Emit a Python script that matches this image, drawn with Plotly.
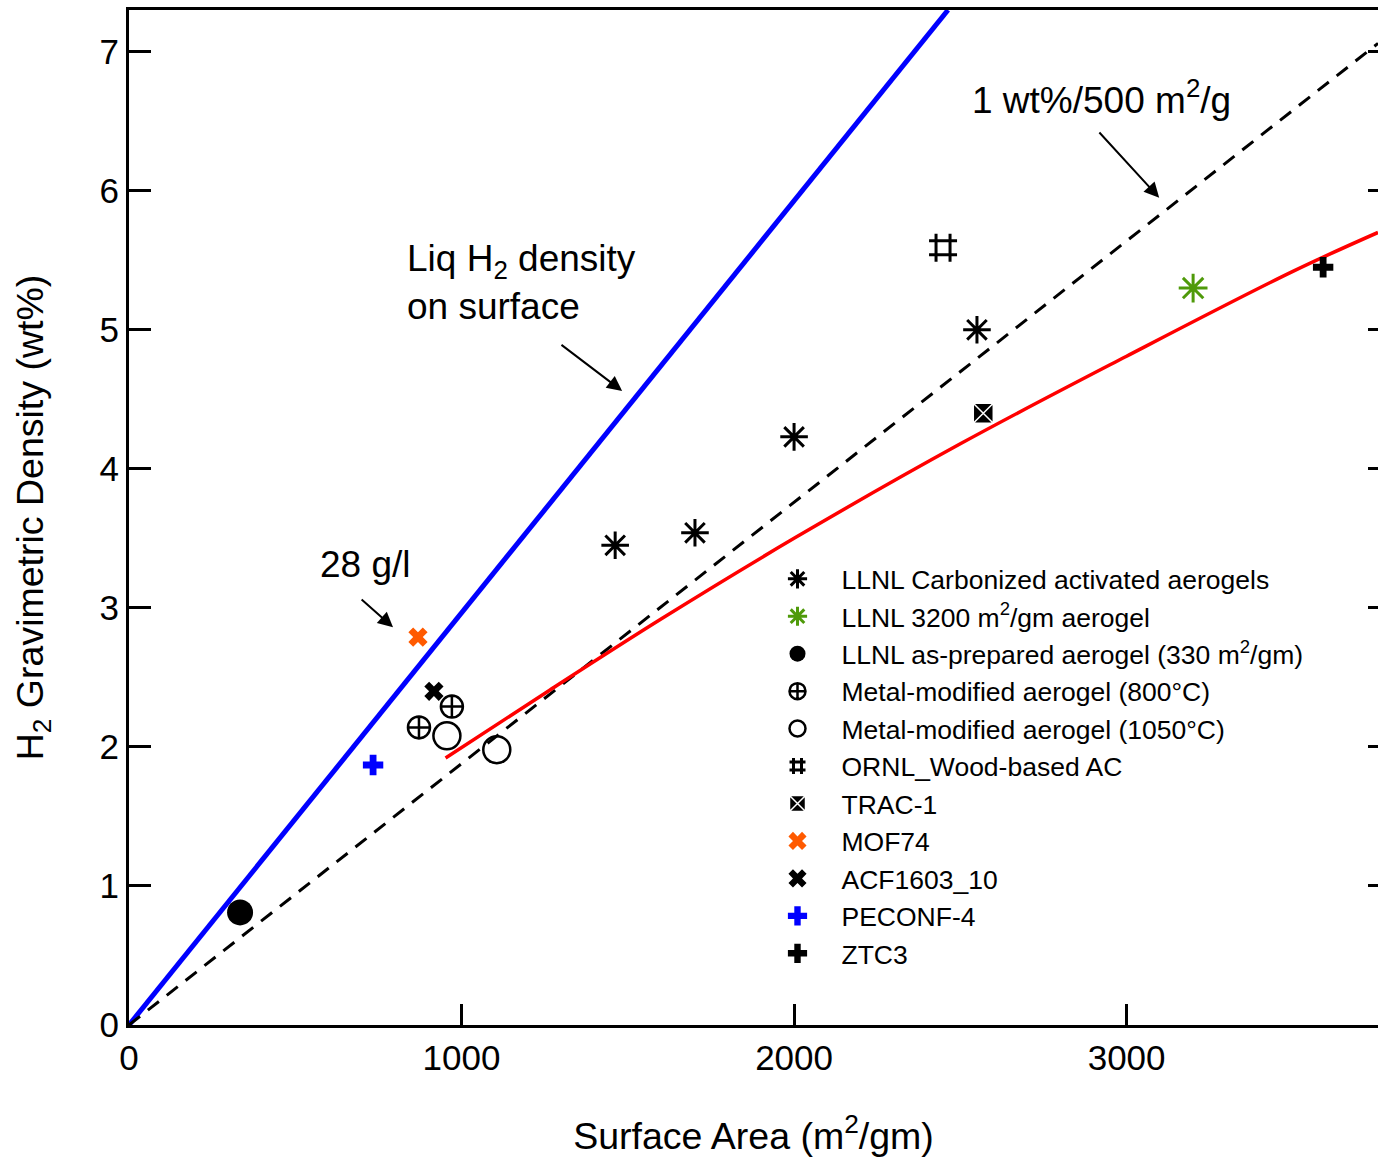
import plotly.graph_objects as go

FONT = "Liberation Sans, Arial, Helvetica, sans-serif"

# Reference lines (endpoints / points)
liq_x = [0, 2463]
liq_y = [0, 7.30]
ratio_x = [0, 3756]
ratio_y = [0, 7.06]
fit_x = [952, 1266, 1600, 2000, 2500, 3000, 3500, 3756]
fit_y = [1.92, 2.41, 2.92, 3.50, 4.18, 4.81, 5.42, 5.70]

# Data series
carb_x = [1462, 1702, 2000, 2550]
carb_y = [3.45, 3.54, 4.23, 5.00]
l3200_x = [3200]
l3200_y = [5.30]
asprep_x = [334]
asprep_y = [0.81]
mm800_x = [872, 971]
mm800_y = [2.14, 2.29]
mm1050_x = [956, 1106]
mm1050_y = [2.08, 1.98]
ornl_x = [2448]
ornl_y = [5.59]
trac_x = [2569]
trac_y = [4.40]
mof_x = [869]
mof_y = [2.79]
acf_x = [917]
acf_y = [2.40]
pec_x = [734]
pec_y = [1.87]
ztc_x = [3591]
ztc_y = [5.45]

x_ticks = [0, 1000, 2000, 3000]
y_ticks = [0, 1, 2, 3, 4, 5, 6, 7]

fig = go.Figure()

fig.add_trace(go.Scatter(x=liq_x, y=liq_y, mode="lines", showlegend=False,
                         line=dict(color="#0000FF", width=5)))
fig.add_trace(go.Scatter(x=ratio_x, y=ratio_y, mode="lines", showlegend=False,
                         line=dict(color="black", width=3, dash="14px,10px")))
fig.add_trace(go.Scatter(x=fit_x, y=fit_y, mode="lines", showlegend=False,
                         line=dict(color="#FF0000", width=3.5, shape="spline", smoothing=1.0)))

def pts(x, y, name, symbol, size, color, lw=0, lcolor=None):
    fig.add_trace(go.Scatter(
        x=x, y=y, mode="markers", name=name,
        marker=dict(symbol=symbol, size=size, color=color,
                    line=dict(width=lw, color=lcolor if lcolor else color))))

pts(carb_x, carb_y, "LLNL Carbonized activated aerogels", "asterisk-open", 23, "black", 3)
pts(l3200_x, l3200_y, "LLNL 3200 m<sup>2</sup>/gm aerogel", "asterisk-open", 24, "#4F9A0A", 3)
pts(asprep_x, asprep_y, "LLNL as-prepared aerogel (330 m<sup>2</sup>/gm)", "circle", 26, "black")
pts(mm800_x, mm800_y, "Metal-modified aerogel (800°C)", "circle-cross-open", 22, "black", 2.5)
pts(mm1050_x, mm1050_y, "Metal-modified aerogel (1050°C)", "circle-open", 27, "black", 2.5)
pts(ornl_x, ornl_y, "ORNL_Wood-based AC", "hash-open", 28, "black", 3)
pts(trac_x, trac_y, "TRAC-1", "square-x", 20, "black", 1.5, "white")
pts(mof_x, mof_y, "MOF74", "x", 17, "#FF5A00")
pts(acf_x, acf_y, "ACF1603_10", "x", 17, "black")
pts(pec_x, pec_y, "PECONF-4", "cross", 17, "#0000FF")
pts(ztc_x, ztc_y, "ZTC3", "cross", 17, "black")

# right-side mirrored ticks
fig.add_trace(go.Scatter(x=[None], y=[None], yaxis="y2", showlegend=False, hoverinfo="skip"))

# annotations
anno_font = dict(family=FONT, size=37, color="black")
fig.add_annotation(x=830, y=5.34, xref="x", yref="y", text="Liq H<sub>2</sub> density<br>on surface",
                   showarrow=False, xanchor="left", yanchor="middle", align="left", font=anno_font)
fig.add_annotation(x=710, y=3.31, xref="x", yref="y", text="28 g/l",
                   showarrow=False, xanchor="center", yanchor="middle", font=anno_font)
fig.add_annotation(x=2923, y=6.67, xref="x", yref="y", text="1 wt%/500 m<sup>2</sup>/g",
                   showarrow=False, xanchor="center", yanchor="middle", font=anno_font)

arrows = [((1483, 4.56), (1296, 4.90)),
          ((794, 2.86), (695, 3.07)),
          ((3098, 5.95), (2914, 6.43))]
for (tx, ty), (sx, sy) in arrows:
    fig.add_annotation(x=tx, y=ty, ax=sx, ay=sy, xref="x", yref="y", axref="x", ayref="y",
                       text="", showarrow=True, arrowhead=2, arrowsize=1.5, arrowwidth=2,
                       arrowcolor="black")

fig.update_layout(
    width=1378, height=1157,
    margin=dict(l=129, r=0, t=10, b=132),
    paper_bgcolor="white", plot_bgcolor="white",
    font=dict(family=FONT, color="black"),
    showlegend=True,
    legend=dict(x=0.5, y=0.463, xanchor="left", yanchor="top",
                font=dict(family=FONT, size=26.5, color="black"),
                bgcolor="rgba(0,0,0,0)", itemwidth=78, tracegroupgap=0),
    xaxis=dict(range=[0, 3756], tickvals=x_ticks,
               ticks="inside", ticklen=21, tickwidth=3, tickcolor="black",
               showline=True, linewidth=3, linecolor="black", mirror=True,
               showgrid=False, zeroline=False,
               tickfont=dict(family=FONT, size=35, color="black"),
               title=dict(text="Surface Area (m<sup>2</sup>/gm)", standoff=48,
                          font=dict(family=FONT, size=37.5, color="black"))),
    yaxis=dict(range=[0, 7.3], tickvals=y_ticks,
               ticks="inside", ticklen=22, tickwidth=3, tickcolor="black",
               showline=True, linewidth=3, linecolor="black", mirror=False,
               showgrid=False, zeroline=False,
               tickfont=dict(family=FONT, size=35, color="black"),
               title=dict(text="H<sub>2</sub> Gravimetric Density (wt%)", standoff=45,
                          font=dict(family=FONT, size=37.5, color="black"))),
    yaxis2=dict(range=[0, 7.3], tickvals=y_ticks, overlaying="y", side="right",
                ticks="inside", ticklen=10, tickwidth=3, tickcolor="black",
                showline=False, showgrid=False, zeroline=False, showticklabels=False),
)

fig.write_html("out.html", config={"displayModeBar": False},
               post_script="document.body.style.margin='0';document.body.style.overflow='hidden';")
